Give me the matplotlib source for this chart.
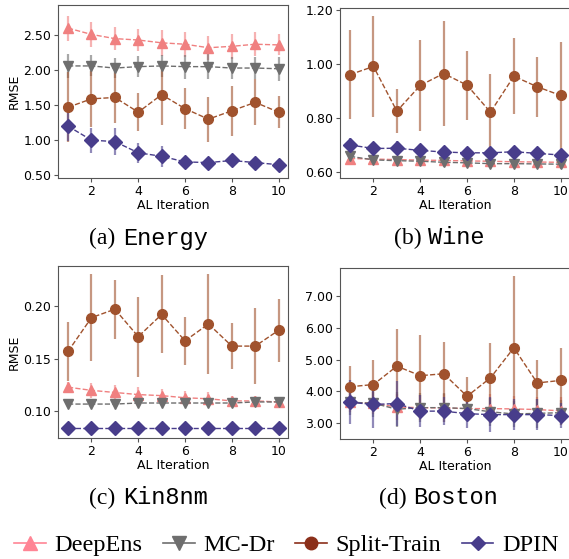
import numpy as np
import matplotlib.pyplot as plt
from matplotlib.lines import Line2D

iters = np.arange(1, 11)

methods = ['DeepEns', 'MC-Dr', 'Split-Train', 'DPIN']
colors = ['#F08080', '#6E6E6E', '#A0522D', '#483D8B']
legend_colors = ['#FF8595', '#6E6E6E', '#8B2F1A', '#483D8B']
markers = ['^', 'v', 'o', 'D']
legend_msize = [10, 10, 9, 7]

# Energy
energy_mean = {
    'DeepEns': [2.60, 2.51, 2.45, 2.43, 2.39, 2.37, 2.32, 2.34, 2.37, 2.36],
    'MC-Dr': [2.06, 2.06, 2.03, 2.05, 2.06, 2.05, 2.05, 2.03, 2.03, 2.02],
    'Split-Train': [1.47, 1.59, 1.61, 1.40, 1.65, 1.45, 1.30, 1.42, 1.54, 1.40],
    'DPIN': [1.20, 1.00, 0.98, 0.82, 0.77, 0.69, 0.68, 0.71, 0.68, 0.65],
}
energy_std = {
    'DeepEns': [0.18, 0.18, 0.16, 0.16, 0.19, 0.18, 0.17, 0.18, 0.17, 0.15],
    'MC-Dr': [0.17, 0.15, 0.14, 0.15, 0.16, 0.17, 0.18, 0.16, 0.16, 0.17],
    'Split-Train': [0.50, 0.40, 0.36, 0.27, 0.43, 0.29, 0.32, 0.36, 0.33, 0.23],
    'DPIN': [0.21, 0.18, 0.19, 0.14, 0.15, 0.05, 0.04, 0.04, 0.04, 0.04],
}

# Wine
wine_mean = {
    'DeepEns': [0.650, 0.648, 0.646, 0.644, 0.643, 0.641, 0.640, 0.638, 0.637, 0.636],
    'MC-Dr': [0.658, 0.645, 0.642, 0.640, 0.636, 0.634, 0.631, 0.631, 0.630, 0.629],
    'Split-Train': [0.960, 0.990, 0.825, 0.920, 0.964, 0.921, 0.821, 0.954, 0.915, 0.883],
    'DPIN': [0.700, 0.687, 0.688, 0.680, 0.674, 0.671, 0.671, 0.675, 0.669, 0.663],
}
wine_std = {
    'DeepEns': [0.012, 0.012, 0.012, 0.012, 0.012, 0.012, 0.012, 0.012, 0.012, 0.012],
    'MC-Dr': [0.016, 0.016, 0.016, 0.016, 0.016, 0.016, 0.016, 0.016, 0.016, 0.016],
    'Split-Train': [0.163, 0.186, 0.082, 0.167, 0.195, 0.127, 0.140, 0.141, 0.110, 0.198],
    'DPIN': [0.025, 0.022, 0.025, 0.024, 0.024, 0.022, 0.022, 0.022, 0.021, 0.020],
}

# Kin8nm
kin_mean = {
    'DeepEns': [0.123, 0.120, 0.118, 0.116, 0.115, 0.113, 0.112, 0.110, 0.110, 0.109],
    'MC-Dr': [0.107, 0.107, 0.107, 0.108, 0.108, 0.108, 0.108, 0.108, 0.109, 0.109],
    'Split-Train': [0.157, 0.189, 0.197, 0.171, 0.192, 0.167, 0.183, 0.162, 0.162, 0.177],
    'DPIN': [0.084, 0.084, 0.084, 0.084, 0.084, 0.084, 0.084, 0.084, 0.084, 0.084],
}
kin_std = {
    'DeepEns': [0.005, 0.007, 0.007, 0.007, 0.006, 0.006, 0.006, 0.005, 0.005, 0.005],
    'MC-Dr': [0.002, 0.002, 0.002, 0.002, 0.002, 0.002, 0.002, 0.003, 0.003, 0.003],
    'Split-Train': [0.028, 0.041, 0.028, 0.038, 0.037, 0.023, 0.047, 0.022, 0.036, 0.030],
    'DPIN': [0.001, 0.001, 0.001, 0.001, 0.001, 0.001, 0.001, 0.001, 0.001, 0.001],
}

# Boston
boston_mean = {
    'DeepEns': [3.65, 3.62, 3.50, 3.48, 3.47, 3.45, 3.45, 3.44, 3.42, 3.38],
    'MC-Dr': [3.65, 3.62, 3.43, 3.48, 3.48, 3.45, 3.35, 3.28, 3.30, 3.32],
    'Split-Train': [4.14, 4.21, 4.79, 4.49, 4.55, 3.84, 4.42, 5.37, 4.26, 4.34],
    'DPIN': [3.65, 3.58, 3.61, 3.37, 3.37, 3.29, 3.26, 3.26, 3.26, 3.23],
}
boston_std = {
    'DeepEns': [0.30, 0.35, 0.40, 0.40, 0.45, 0.40, 0.45, 0.40, 0.40, 0.45],
    'MC-Dr': [0.40, 0.45, 0.55, 0.45, 0.45, 0.40, 0.45, 0.40, 0.45, 0.40],
    'Split-Train': [0.67, 0.76, 1.18, 1.27, 1.00, 0.61, 1.11, 2.28, 0.74, 1.03],
    'DPIN': [0.70, 0.75, 0.70, 0.50, 0.45, 0.45, 0.55, 0.50, 0.50, 0.40],
}

panels = [
    ('(a)', 'Energy', energy_mean, energy_std, (0.46, 2.93), [0.5, 1.0, 1.5, 2.0, 2.5], True),
    ('(b)', 'Wine', wine_mean, wine_std, (0.578, 1.206), [0.6, 0.8, 1.0, 1.2], False),
    ('(c)', 'Kin8nm', kin_mean, kin_std, (0.0748, 0.238), [0.10, 0.15, 0.20], True),
    ('(d)', 'Boston', boston_mean, boston_std, (2.49, 7.89), [3, 4, 5, 6, 7], False),
]

W, H = 569, 559
fig = plt.figure(figsize=(W / 100, H / 100), dpi=100)

# axes boxes in pixels: left, top, right, bottom
boxes = [(58, 5, 288, 178), (340, 8, 570, 178), (58, 266, 288, 438), (340, 268, 570, 439)]
caption_pos = [(148.5, 238), (439, 238), (149, 498), (439, 498)]

spine_col = '#555555'
cap_size = 17
gap = 34  # px from label start to dataset name

for (lbl, name, means, stds, ylim, yt, ylab), box, cp in zip(panels, boxes, caption_pos):
    l, t, r, b = box
    ax = fig.add_axes([l / W, 1 - b / H, (r - l) / W, (b - t) / H])
    for m, c, mk in zip(methods, colors, markers):
        eb = ax.errorbar(iters, means[m], yerr=stds[m], color=c, marker=mk, markersize=7,
                         linestyle='--', linewidth=1, elinewidth=1.6, ecolor=c, capsize=0)
        eb[2][0].set_alpha(0.6)
    ax.set_xlim(0.57, 10.4)
    ax.set_ylim(*ylim)
    ax.set_xticks([2, 4, 6, 8, 10])
    ax.set_yticks(yt)
    ax.set_yticklabels([f'{v:.2f}' for v in yt])
    ax.set_xlabel('AL Iteration', fontsize=9, labelpad=1)
    if ylab:
        ax.set_ylabel('RMSE', fontsize=9, labelpad=2)
    ax.tick_params(labelsize=9, length=3, color=spine_col, pad=2)
    for s in ax.spines.values():
        s.set_color(spine_col)

    # caption: serif label + monospace dataset name, centred as a group
    name_w = len(name) * 0.6 * cap_size * 100 / 72
    x0 = cp[0] - (gap + name_w) / 2
    fig.text(x0 / W, 1 - cp[1] / H, lbl, family='Liberation Serif', fontsize=cap_size,
             ha='left', va='center')
    fig.text((x0 + gap) / W, 1 - cp[1] / H, name, family='Liberation Mono', fontsize=cap_size,
             ha='left', va='center')

handles = [Line2D([0], [0], color=c, marker=mk, markersize=ms, linewidth=1.2)
           for c, mk, ms in zip(legend_colors, markers, legend_msize)]
fig.legend(handles, methods, loc='center', bbox_to_anchor=(286.5 / W, 1 - 545 / H), ncol=4,
           frameon=False, prop={'family': 'Liberation Serif', 'size': 17.5},
           handlelength=1.3, handletextpad=0.35, columnspacing=0.85, borderaxespad=0,
           borderpad=0)

fig.savefig('out.png', dpi=100)
